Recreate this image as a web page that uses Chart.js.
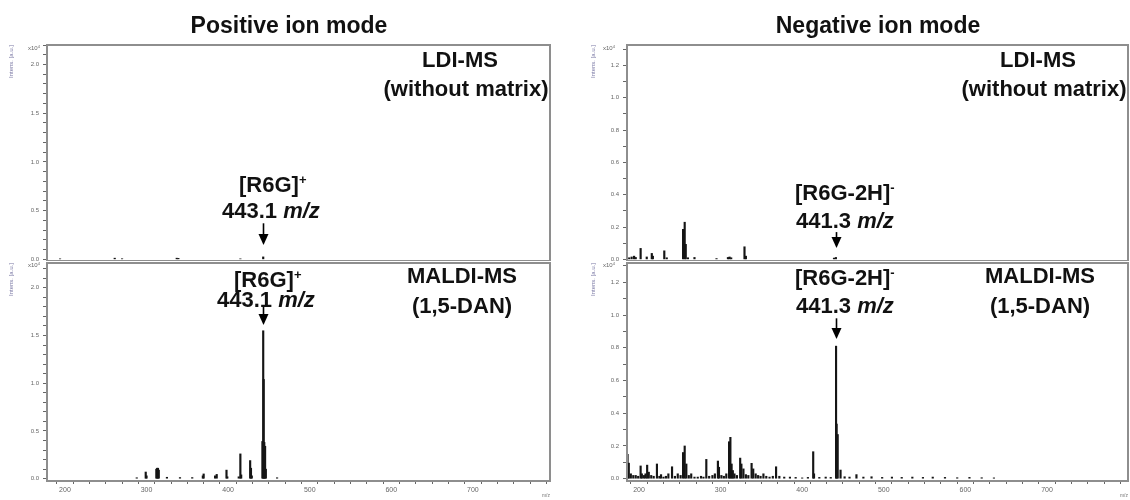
<!DOCTYPE html>
<html>
<head>
<meta charset="utf-8">
<script src="https://cdn.jsdelivr.net/npm/chart.js@4/dist/chart.umd.min.js"></script>
<style>
  html, body { margin: 0; padding: 0; background: #fff; }
  #wrap { position: relative; width: 1130px; height: 500px; overflow: hidden; font-family: "Liberation Sans", Arial, sans-serif; }
  .cv { position: absolute; }
  .t { position: absolute; font-weight: bold; font-size: 22px; line-height: 22px; color: #111; white-space: nowrap; }
  .title { font-size: 23px; line-height: 23px; transform: translateX(-50%); }
  .c { transform: translateX(-50%); }
  .t sup { font-size: 13px; line-height: 0; vertical-align: 8px; }
  .t i { font-style: italic; }
  .mag { position: absolute; font-size: 6px; line-height: 6px; color: #666; white-space: nowrap; }
  .mag sup { font-size: 4px; line-height: 0; vertical-align: 2px; }
</style>
</head>
<body>
<div id="wrap">
  <canvas id="c1" class="cv" width="560" height="261" style="left:0;top:0"></canvas>
  <canvas id="c2" class="cv" width="560" height="238" style="left:0;top:262px"></canvas>
  <canvas id="c3" class="cv" width="570" height="261" style="left:560px;top:0"></canvas>
  <canvas id="c4" class="cv" width="570" height="238" style="left:560px;top:262px"></canvas>

  <div class="t title" style="left:289px;top:14px">Positive ion mode</div>
  <div class="t title" style="left:878px;top:14px">Negative ion mode</div>

  <div class="t c" style="left:460px;top:49px">LDI-MS</div>
  <div class="t c" style="left:466px;top:78px">(without matrix)</div>
  <div class="t c" style="left:1038px;top:49px">LDI-MS</div>
  <div class="t c" style="left:1044px;top:78px">(without matrix)</div>

  <div class="t c" style="left:462px;top:265px">MALDI-MS</div>
  <div class="t c" style="left:462px;top:295px">(1,5-DAN)</div>
  <div class="t c" style="left:1040px;top:265px">MALDI-MS</div>
  <div class="t c" style="left:1040px;top:295px">(1,5-DAN)</div>

  <div class="t" style="left:239px;top:174px">[R6G]<sup>+</sup></div>
  <div class="t" style="left:222px;top:200px">443.1 <i>m/z</i></div>
  <div class="t" style="left:234px;top:269px">[R6G]<sup>+</sup></div>
  <div class="t" style="left:217px;top:289px">443.1 <i>m/z</i></div>

  <div class="t" style="left:795px;top:182px">[R6G-2H]<sup>-</sup></div>
  <div class="t" style="left:796px;top:210px">441.3 <i>m/z</i></div>
  <div class="t" style="left:795px;top:267px">[R6G-2H]<sup>-</sup></div>
  <div class="t" style="left:796px;top:295px">441.3 <i>m/z</i></div>

  <div class="mag" style="left:28px;top:45px">x10<sup>4</sup></div>
  <div class="mag" style="left:28px;top:262px">x10<sup>4</sup></div>
  <div class="mag" style="left:603px;top:45px">x10<sup>4</sup></div>
  <div class="mag" style="left:603px;top:262px">x10<sup>4</sup></div>
</div>
<script>
// ---------- data (intensity in units of 10^4 a.u.) ----------
const posLdiMz  = [194,   261,   270,   337,   339,  415,   443];
const posLdiInt = [0.005, 0.012, 0.006, 0.012, 0.01, 0.005, 0.025];

const posMaldiMz  = [288,  299,  300,  312,  313,  314,  315,  325,   341,   356,   369,  370,  384,  386,   398,  399,  413,  415,  416,  427,  428,  429,  442,  443,  443.6, 444.3, 445.3, 446.2, 460];
const posMaldiInt = [0.01, 0.07, 0.03, 0.10, 0.11, 0.11, 0.09, 0.015, 0.012, 0.012, 0.03, 0.05, 0.03, 0.045, 0.09, 0.02, 0.02, 0.26, 0.04, 0.19, 0.11, 0.03, 0.39, 1.55, 1.04,  0.38,  0.34,  0.10,  0.01];

const negLdiMz  = [188,  191,   194,  196,   202,   209.5, 215.7, 217,  231,   234,  254,   256,  257.3, 260,  268,   295,   309,   311,   313,  329.3, 331,  439,   441.3];
const negLdiInt = [0.01, 0.015, 0.02, 0.012, 0.068, 0.015, 0.037, 0.02, 0.053, 0.01, 0.186, 0.23, 0.093, 0.01, 0.012, 0.005, 0.012, 0.015, 0.01, 0.078, 0.02, 0.008, 0.012];

const negMaldiMz = [
  186, 187.5, 190, 193, 196, 199, 202, 203.5, 206, 208,
  210, 212, 215, 218, 222, 225, 227, 230, 233, 236,
  240.5, 244, 247.5, 251, 254, 256, 258, 261, 264, 268,
  272, 276, 279, 282.5, 286, 290, 293, 296.7, 298, 301,
  304, 307, 310.4, 312, 313.5, 315, 317, 320, 324, 325.5,
  328, 331, 334, 338, 340, 343, 346, 349, 352.5, 356,
  360, 364, 368, 372, 378, 385, 392, 400, 407, 413.5,
  414.5, 421, 428.8, 435, 441.5, 442.2, 443.5, 447, 452, 458,
  466.5, 475, 485, 498, 510, 522, 535, 548, 560, 575,
  590, 605, 620, 635
];
const negMaldiInt = [
  0.149, 0.095, 0.03, 0.02, 0.02, 0.015, 0.078, 0.03, 0.02, 0.03,
  0.083, 0.04, 0.02, 0.015, 0.09, 0.015, 0.025, 0.01, 0.015, 0.03,
  0.073, 0.015, 0.03, 0.02, 0.16, 0.20, 0.09, 0.02, 0.03, 0.01,
  0.01, 0.015, 0.01, 0.118, 0.015, 0.02, 0.03, 0.108, 0.07, 0.02,
  0.015, 0.03, 0.226, 0.253, 0.09, 0.05, 0.03, 0.02, 0.126, 0.09,
  0.06, 0.025, 0.02, 0.094, 0.06, 0.03, 0.02, 0.015, 0.03, 0.015,
  0.01, 0.015, 0.073, 0.015, 0.01, 0.01, 0.008, 0.005, 0.008, 0.165,
  0.03, 0.008, 0.01, 0.008, 0.81, 0.334, 0.27, 0.053, 0.012, 0.01,
  0.025, 0.01, 0.012, 0.008, 0.01, 0.008, 0.01, 0.008, 0.01, 0.008,
  0.006, 0.008, 0.006, 0.005
];

const posYLabels = [0, 0.5, 1.0, 1.5, 2.0];
const negYLabels = [0, 0.2, 0.4, 0.6, 0.8, 1.0, 1.2];
const xLabels = [200, 300, 400, 500, 600, 700];

// ---------- helpers ----------
const FONT = '"Liberation Sans", Arial, sans-serif';

const framePlugin = {
  id: 'frame',
  afterDatasetsDraw(chart, args, opts) {
    const { ctx, chartArea: a } = chart;
    ctx.save();
    ctx.strokeStyle = '#8e8e8e';
    ctx.lineWidth = 2;
    ctx.strokeRect(a.left, a.top, a.right - a.left, a.bottom - a.top);
    const ar = opts.arrow;
    if (ar) {
      const x = Math.round(chart.scales.x.getPixelForValue(ar.mz)) + 0.5;
      const y1 = chart.scales.y.getPixelForValue(ar.from);
      const y2 = chart.scales.y.getPixelForValue(ar.to);
      ctx.strokeStyle = '#000';
      ctx.fillStyle = '#000';
      ctx.lineWidth = 1.6;
      ctx.beginPath();
      ctx.moveTo(x, y1);
      ctx.lineTo(x, y2 - 8);
      ctx.stroke();
      ctx.beginPath();
      ctx.moveTo(x - 5, y2 - 11);
      ctx.lineTo(x + 5, y2 - 11);
      ctx.lineTo(x, y2);
      ctx.closePath();
      ctx.fill();
    }
    ctx.restore();
  }
};

function minorTicks(lo, hi, step) {
  const out = [];
  const n = Math.round((hi - lo) / step);
  for (let i = 0; i <= n; i++) out.push(+(lo + i * step).toFixed(4));
  return out;
}

function noPad(axis) {
  axis.paddingTop = 0; axis.paddingBottom = 0;
  axis.paddingLeft = 0; axis.paddingRight = 0;
}

function makePanel(id, mz, inten, cfg) {
  const data = mz.map((x, i) => ({ x: x, y: inten[i] }));
  const yTickVals = minorTicks(0, cfg.yTickTop, 0.1);
  const xTickVals = minorTicks(200, 780, 20);
  return new Chart(document.getElementById(id), {
    type: 'bar',
    data: {
      datasets: [{
        data: data,
        backgroundColor: '#151515',
        borderWidth: 0,
        barThickness: 1.5
      }]
    },
    options: {
      responsive: false,
      animation: false,
      devicePixelRatio: 1,
      layout: { padding: cfg.padding },
      plugins: {
        legend: { display: false },
        tooltip: { enabled: false },
        frame: { arrow: cfg.arrow }
      },
      scales: {
        x: {
          type: 'linear',
          offset: false,
          min: cfg.xMin,
          max: cfg.xMax,
          display: cfg.showX,
          afterBuildTicks: axis => { axis.ticks = xTickVals.filter(v => v >= cfg.xMin && v <= cfg.xMax).map(v => ({ value: v })); },
          afterFit: axis => { axis.height = cfg.showX ? 19 : 0; noPad(axis); },
          grid: { drawOnChartArea: false, drawTicks: true, tickLength: 3, color: '#666', tickColor: '#666' },
          border: { display: false },
          ticks: {
            autoSkip: false, maxRotation: 0, padding: 2,
            color: '#666', font: { family: FONT, size: 7 },
            callback: v => (xLabels.includes(v) ? String(v) : '')
          },
          title: {
            display: true, text: 'm/z', align: 'end', color: '#777',
            font: { family: FONT, size: 5 }, padding: { top: 0, bottom: 1 }
          }
        },
        y: {
          type: 'linear',
          min: cfg.yMin,
          max: cfg.yMax,
          afterBuildTicks: axis => { axis.ticks = yTickVals.map(v => ({ value: v })); },
          afterFit: axis => { axis.width = cfg.yWidth; noPad(axis); },
          grid: { drawOnChartArea: false, drawTicks: true, tickLength: 4, color: '#666', tickColor: '#666' },
          border: { display: false },
          ticks: {
            autoSkip: false, padding: 4,
            color: '#666', font: { family: FONT, size: 6 },
            callback: v => (cfg.yLabels.some(l => Math.abs(l - v) < 1e-6) ? v.toFixed(1) : '')
          },
          title: {
            display: true, text: 'Intens. [a.u.]', align: 'end', color: '#7a78a4',
            font: { family: FONT, size: 6 }, padding: { top: 5, bottom: 0 }
          }
        }
      }
    },
    plugins: [framePlugin]
  });
}

makePanel('c1', posLdiMz, posLdiInt, {
  padding: { left: 3, top: 45, right: 10, bottom: 0 }, yWidth: 44,
  xMin: 178, xMax: 794.5, showX: false,
  yMin: -0.017, yMax: 2.2, yTickTop: 2.2, yLabels: posYLabels,
  arrow: { mz: 443.1, from: 0.37, to: 0.147 }
});
makePanel('c2', posMaldiMz, posMaldiInt, {
  padding: { left: 3, top: 1, right: 10, bottom: 0 }, yWidth: 44,
  xMin: 178, xMax: 794.5, showX: true,
  yMin: -0.024, yMax: 2.26, yTickTop: 2.2, yLabels: posYLabels,
  arrow: { mz: 443.1, from: 1.82, to: 1.61 }
});
makePanel('c3', negLdiMz, negLdiInt, {
  padding: { left: 25, top: 45, right: 2, bottom: 0 }, yWidth: 42,
  xMin: 185.3, xMax: 799.3, showX: false,
  yMin: -0.01, yMax: 1.327, yTickTop: 1.3, yLabels: negYLabels,
  arrow: { mz: 441.3, from: 0.169, to: 0.07 }
});
makePanel('c4', negMaldiMz, negMaldiInt, {
  padding: { left: 25, top: 1, right: 2, bottom: 0 }, yWidth: 42,
  xMin: 185.3, xMax: 799.3, showX: true,
  yMin: -0.014, yMax: 1.318, yTickTop: 1.3, yLabels: negYLabels,
  arrow: { mz: 441.3, from: 0.98, to: 0.853 }
});
</script>
</body>
</html>
